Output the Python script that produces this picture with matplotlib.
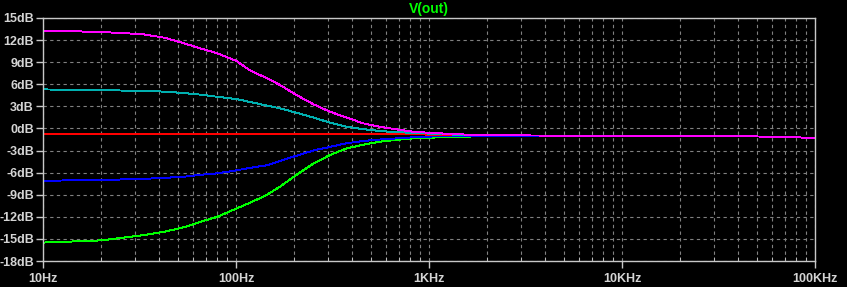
import matplotlib
matplotlib.use('Agg')
import matplotlib.pyplot as plt
from matplotlib.ticker import FixedLocator, LogLocator, NullFormatter
import numpy as np

# frequency points (Hz)
freq = [10, 20, 33, 43, 54, 65, 80, 100, 118, 145, 169, 206, 251, 307, 376,
        457, 557, 681, 826, 1140, 1600, 3000, 10000, 40000, 70000, 100000]

# V(out) in dB, one list per stepped trace
green = [-15.5, -15.2, -14.5, -14.0, -13.4, -12.7, -12.0, -10.9, -10.1, -9.0, -7.9, -6.3, -4.8,
         -3.6, -2.7, -2.2, -1.8, -1.55, -1.35, -1.2, -1.1, -1.0, -1.0, -1.05, -1.15, -1.3]
blue = [-7.1, -7.0, -6.85, -6.7, -6.55, -6.3, -6.1, -5.7, -5.35, -5.0, -4.4, -3.7, -3.0,
        -2.5, -2.0, -1.7, -1.5, -1.35, -1.2, -1.05, -1.0, -1.0, -1.0, -1.05, -1.15, -1.3]
red = [-0.78, -0.78, -0.78, -0.78, -0.78, -0.78, -0.78, -0.78, -0.78, -0.78, -0.78, -0.78, -0.78,
       -0.78, -0.78, -0.78, -0.78, -0.8, -0.8, -0.85, -0.9, -0.95, -1.0, -1.05, -1.15, -1.3]
cyan = [5.3, 5.2, 5.1, 5.0, 4.8, 4.6, 4.3, 4.0, 3.6, 3.1, 2.73, 2.13, 1.5,
        0.78, 0.23, -0.1, -0.35, -0.5, -0.6, -0.76, -0.9, -0.95, -1.0, -1.05, -1.15, -1.3]
magenta = [13.3, 13.1, 12.8, 12.3, 11.55, 10.9, 10.2, 9.2, 7.9, 6.8, 5.9, 4.54, 3.3,
           2.27, 1.46, 0.69, 0.23, -0.13, -0.45, -0.67, -0.85, -0.95, -1.0, -1.05, -1.15, -1.3]

yticks = [15, 12, 9, 6, 3, 0, -3, -6, -9, -12, -15, -18]
xticks = [10, 100, 1000, 10000, 100000]
xlabels = ['10Hz', '100Hz', '1KHz', '10KHz', '100KHz']

fig = plt.figure(figsize=(8.47, 2.87), dpi=100, facecolor='black')
ax = fig.add_axes([43/847, 1 - 261/287, (815 - 43)/847, (261 - 18)/287])
ax.set_facecolor('black')

for vals, col in [(green, '#00ff00'), (blue, '#0000ff'), (red, '#ff0000'),
                  (cyan, '#00b0b0'), (magenta, '#ff00ff')]:
    ax.semilogx(freq, vals, color=col, lw=0.7, antialiased=False)

ax.set_xlim(10, 100000)
ax.set_ylim(-18, 15)
ax.set_xticks(xticks)
ax.set_xticklabels(xlabels)
ax.xaxis.set_minor_locator(LogLocator(base=10, subs=np.arange(2, 10)))
ax.xaxis.set_minor_formatter(NullFormatter())
ax.yaxis.set_major_locator(FixedLocator(yticks))
ax.set_yticklabels([f'{v}dB' for v in yticks])

txtcol = '#d4d4d4'
ax.tick_params(axis='both', which='major', colors='#c8c8c8', labelcolor=txtcol,
               length=5, width=1, direction='out', labelsize=9)
ax.tick_params(axis='x', which='minor', colors='#c8c8c8', length=3, direction='in')
for lab in ax.get_xticklabels() + ax.get_yticklabels():
    lab.set_fontweight('bold')
    lab.set_family('Liberation Sans')
ax.tick_params(axis='y', pad=1.5)
ax.tick_params(axis='x', pad=4)

ax.grid(True, which='both', color='#808080', ls=(0, (3, 3)), lw=0.8)
for s in ax.spines.values():
    s.set_color('#c8c8c8')
    s.set_linewidth(1)

fig.text(429/847, 1 - 9/287, 'V(out)', color='#00ff00', fontsize=10, fontweight='bold',
         family='Liberation Sans', ha='center', va='center')

plt.savefig('out.png', dpi=100, facecolor='black')
